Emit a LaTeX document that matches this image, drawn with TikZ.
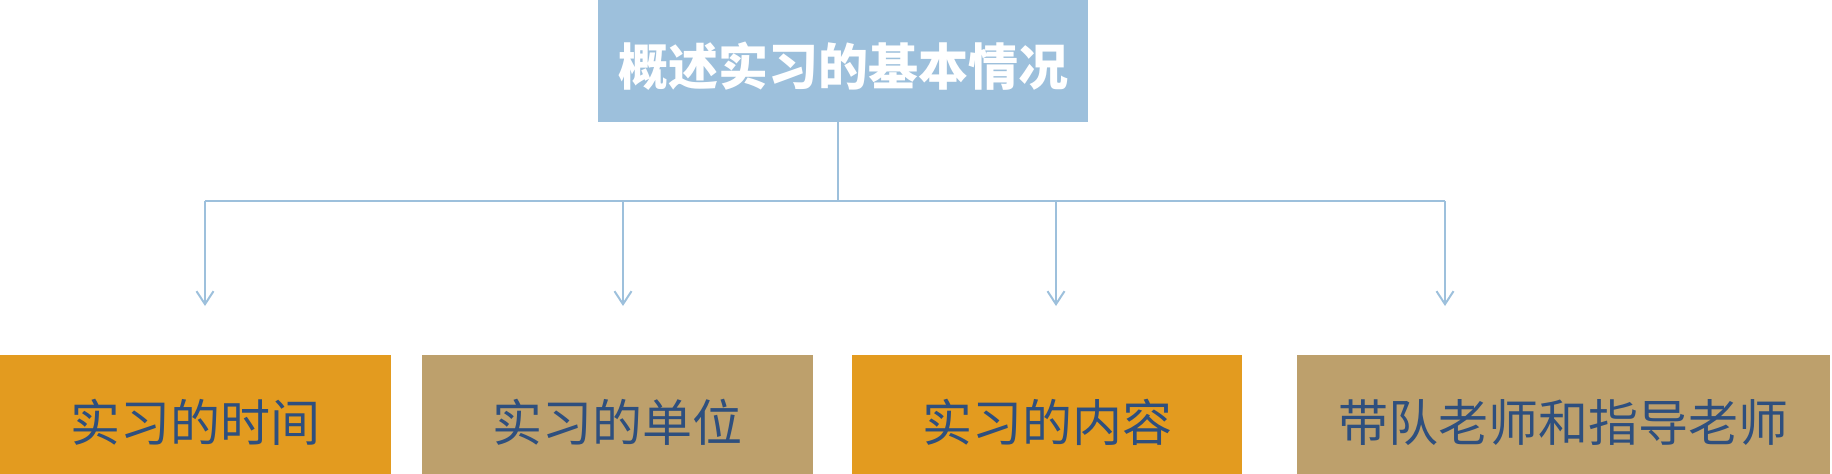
\documentclass[tikz,border=0pt]{standalone}
\usepackage{fontspec}
\usetikzlibrary{arrows.meta}
\newfontfamily\cjk{Noto Sans CJK SC}
\definecolor{topblue}{HTML}{9DC0DC}
\definecolor{boxorange}{HTML}{E39B1F}
\definecolor{boxtan}{HTML}{BDA06C}
\definecolor{txtblue}{HTML}{2E4F7E}
\begin{document}
\begin{tikzpicture}[x=1pt,y=-1pt,
  conn/.style={draw=topblue,line width=2pt},
  arr/.style={conn,-{Straight Barb[length=13pt,width=17pt,line width=2pt]}},
  topbox/.style={fill=topblue,inner sep=0pt,minimum width=490pt,minimum height=122pt,
     font=\cjk\bfseries\fontsize{50pt}{60pt}\selectfont,text=white,
     text height=54pt,text depth=6pt},
  lowbox/.style={inner sep=0pt,minimum height=119pt,
     font=\cjk\fontsize{50pt}{60pt}\selectfont,text=txtblue,
     text height=59pt,text depth=6pt}]
\useasboundingbox (0,0) rectangle (1832,474);
\node[topbox] (top) at (843,61) {概述实习的基本情况};
\node[lowbox,fill=boxorange,minimum width=391pt] (b1) at (195.5,414.5) {实习的时间};
\node[lowbox,fill=boxtan,minimum width=391pt] (b2) at (617.5,414.5) {实习的单位};
\node[lowbox,fill=boxorange,minimum width=390pt] (b3) at (1047,414.5) {实习的内容};
\node[lowbox,fill=boxtan,minimum width=533pt] (b4) at (1563.5,414.5) {带队老师和指导老师};
\coordinate (j) at (838,201);
\coordinate (h1) at (205,201);
\coordinate (h2) at (623,201);
\coordinate (h3) at (1056,201);
\coordinate (h4) at (1445,201);
\coordinate (a1) at (205,306);
\coordinate (a2) at (623,306);
\coordinate (a3) at (1056,306);
\coordinate (a4) at (1445,306);
\draw[conn] (top.south -| j) -- (j);
\draw[conn] (h1) -- (h4);
\draw[arr] (h1) -- (a1);
\draw[arr] (h2) -- (a2);
\draw[arr] (h3) -- (a3);
\draw[arr] (h4) -- (a4);
\end{tikzpicture}
\end{document}
